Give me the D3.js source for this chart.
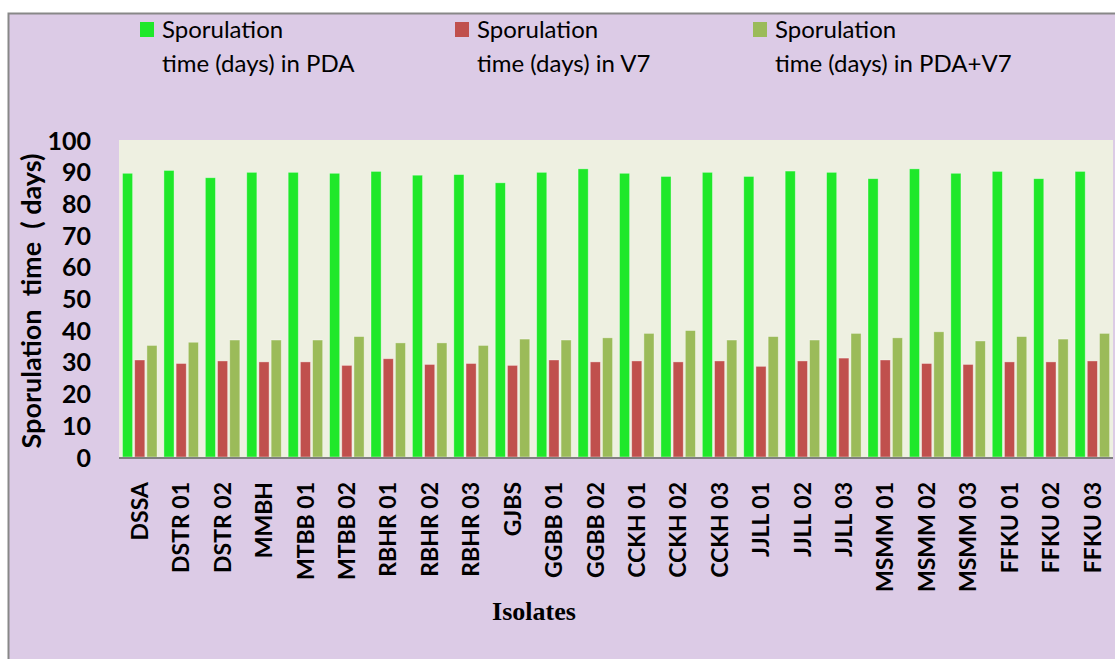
<!DOCTYPE html>
<html>
<head>
<meta charset="utf-8">
<script src="https://cdn.jsdelivr.net/npm/d3@7"></script>
<style>
  html, body { margin: 0; padding: 0; background: #fff; }
  svg { display: block; }
</style>
</head>
<body>
<div id="chart"></div>
<script>
// isolates on the x axis
var isolates = ["DSSA", "DSTR 01", "DSTR 02", "MMBH", "MTBB 01", "MTBB 02", "RBHR 01", "RBHR 02", "RBHR 03",
  "GJBS", "GGBB 01", "GGBB 02", "CCKH 01", "CCKH 02", "CCKH 03", "JJLL 01", "JJLL 02", "JJLL 03",
  "MSMM 01", "MSMM 02", "MSMM 03", "FFKU 01", "FFKU 02", "FFKU 03"];

// sporulation time (days)
var pda = [89.5, 90.4, 88.1, 89.8, 89.8, 89.5, 90.1, 88.9, 89.1,
  86.5, 89.8, 90.9, 89.5, 88.5, 89.8, 88.5, 90.2, 89.8,
  87.8, 90.9, 89.5, 90.1, 87.8, 90.1];
var v7 = [30.6, 29.5, 30.3, 30.0, 30.0, 28.9, 31.0, 29.2, 29.5,
  28.9, 30.6, 30.0, 30.3, 30.0, 30.3, 28.6, 30.3, 31.2,
  30.6, 29.5, 29.2, 30.0, 30.0, 30.3];
var pdaV7 = [35.2, 36.2, 36.9, 36.9, 36.9, 38.0, 36.0, 36.0, 35.2,
  37.2, 36.9, 37.6, 39.0, 39.9, 36.9, 38.0, 36.9, 39.0,
  37.6, 39.5, 36.6, 38.0, 37.2, 39.0];

var yTicks = [0, 10, 20, 30, 40, 50, 60, 70, 80, 90, 100];

var series = [
  {key: "pda", name: ["Sporulation", "time (days) in PDA"], color: "#1fe82a", values: pda},
  {key: "v7", name: ["Sporulation", "time (days) in V7"], color: "#c0504d", values: v7},
  {key: "pdav7", name: ["Sporulation", "time (days) in PDA+V7"], color: "#9bbb59", values: pdaV7}
];

var W = 1115, H = 659;
var plot = {left: 119, right: 1113, top: 140, bottom: 457};

var svg = d3.select("#chart").append("svg")
  .attr("width", W).attr("height", H);

// chart area background + border
svg.append("rect")
  .attr("x", 8.5).attr("y", 13.5)
  .attr("width", W + 20).attr("height", H + 20)
  .attr("fill", "#dccbe6")
  .attr("stroke", "#888").attr("stroke-width", 2);

// plot area
svg.append("rect")
  .attr("x", plot.left).attr("y", plot.top)
  .attr("width", plot.right - plot.left).attr("height", plot.bottom - plot.top)
  .attr("fill", "#eef0e1");

var y = d3.scaleLinear().domain([0, 100]).range([plot.bottom, plot.top]);

var x0 = d3.scaleBand().domain(isolates).range([plot.left, plot.right]);
var x1 = d3.scaleBand().domain(series.map(function(s) { return s.key; }))
  .range([3.5, x0.bandwidth() - 3.4]).paddingInner(0.17);

// bars
var groups = svg.append("g").selectAll("g")
  .data(series)
  .enter().append("g")
  .attr("fill", function(s) { return s.color; });

groups.selectAll("rect")
  .data(function(s) {
    return s.values.map(function(v, i) { return {key: s.key, name: isolates[i], value: v}; });
  })
  .enter().append("rect")
  .attr("x", function(d) { return x0(d.name) + x1(d.key); })
  .attr("y", function(d) { return y(d.value); })
  .attr("width", x1.bandwidth())
  .attr("height", function(d) { return y(0) - y(d.value); })
  .attr("stroke", "rgba(255,255,255,0.45)")
  .attr("stroke-width", 0.8);

// x axis line
svg.append("line")
  .attr("x1", plot.left).attr("x2", plot.right)
  .attr("y1", plot.bottom + 1).attr("y2", plot.bottom + 1)
  .attr("stroke", "#808080").attr("stroke-width", 2);

// y axis labels
var yAxis = d3.axisLeft(y).tickValues(yTicks).tickSize(0).tickPadding(0);
var yg = svg.append("g")
  .attr("transform", "translate(91,0)")
  .call(yAxis);
yg.select(".domain").remove();
yg.selectAll("text")
  .attr("font-family", "Lato, sans-serif")
  .attr("font-weight", "bold")
  .attr("font-size", 25)
  .attr("fill", "#000")
  .attr("dy", "0.36em");

// x axis labels
var xAxis = d3.axisBottom(x0).tickSize(0).tickPadding(0);
var xg = svg.append("g")
  .attr("transform", "translate(0,482)")
  .call(xAxis);
xg.select(".domain").remove();
xg.selectAll("text")
  .attr("font-family", "Lato, sans-serif")
  .attr("font-weight", "bold")
  .attr("font-size", 23)
  .attr("fill", "#000")
  .attr("text-anchor", "end")
  .attr("transform", "rotate(-90)")
  .attr("x", 0)
  .attr("y", 0)
  .attr("dy", "0.36em");

// axis titles
svg.append("text")
  .attr("transform", "translate(41,301) rotate(-90)")
  .attr("text-anchor", "middle")
  .attr("font-family", "Lato, sans-serif")
  .attr("font-weight", "bold")
  .attr("font-size", 27)
  .attr("xml:space", "preserve")
  .text("Sporulation  time  ( days)");

svg.append("text")
  .attr("x", 534).attr("y", 620)
  .attr("text-anchor", "middle")
  .attr("font-family", "'Liberation Serif', 'Times New Roman', serif")
  .attr("font-weight", "bold")
  .attr("font-size", 26)
  .text("Isolates");

// legend
var legendX = [140, 455, 753];
var legend = svg.append("g").selectAll("g")
  .data(series)
  .enter().append("g")
  .attr("transform", function(d, i) { return "translate(" + legendX[i] + ",0)"; });

legend.append("rect")
  .attr("x", 0).attr("y", 22)
  .attr("width", 14).attr("height", 15)
  .attr("fill", function(d) { return d.color; });

legend.append("text")
  .attr("font-family", "Lato, sans-serif")
  .attr("font-size", 24)
  .attr("fill", "#000")
  .selectAll("tspan")
  .data(function(d) { return d.name; })
  .enter().append("tspan")
  .attr("x", 22)
  .attr("y", function(d, i) { return 38 + i * 34; })
  .text(function(d) { return d; });
</script>
</body>
</html>
